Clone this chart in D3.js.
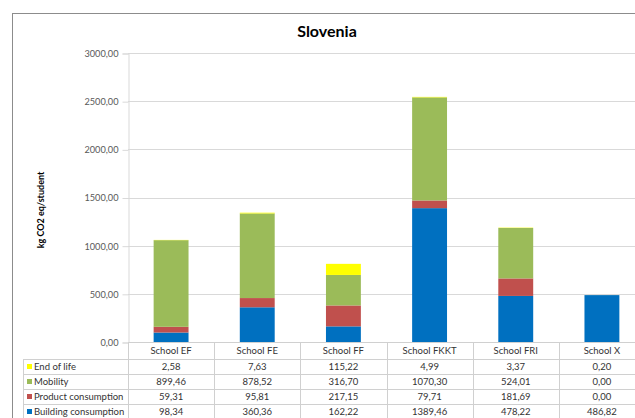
<!DOCTYPE html>
<html>
<head>
<meta charset="utf-8">
<script src="https://cdn.jsdelivr.net/npm/d3@7"></script>
<style>
  body { margin: 0; background: #fff; }
  svg { display: block; font-family: Lato, "Open Sans", sans-serif; }
</style>
</head>
<body>
<div id="chart-area"></div>
<script>
const schools = ["School EF", "School FE", "School FF", "School FKKT", "School FRI", "School X"]
const building = [98.34, 360.36, 162.22, 1389.46, 478.22, 486.82]
const product = [59.31, 95.81, 217.15, 79.71, 181.69, 0.00]
const mobility = [899.46, 878.52, 316.70, 1070.30, 524.01, 0.00]
const endOfLife = [2.58, 7.63, 115.22, 4.99, 3.37, 0.20]
const yTicks = [0, 500, 1000, 1500, 2000, 2500, 3000]

const seriesNames = ["Building consumption", "Product consumption", "Mobility", "End of life"]
const seriesValues = [building, product, mobility, endOfLife]
const seriesColors = ["#0070C0", "#C0504D", "#9BBB59", "#FFFF00"]

const W = 635, H = 418
const PLOT = { LEFT: 128, RIGHT: 645, TOP: 53, BOTTOM: 342 }
const ROW_H = 15
const TABLE_LEFT = 23

const locale = d3.formatLocale({ decimal: ",", thousands: "", grouping: [3], currency: ["", ""] })
const fmt = locale.format(".2f")

const svg = d3.select("#chart-area").append("svg")
  .attr("width", W)
  .attr("height", H)

// chart frame
svg.append("rect")
  .attr("x", 12.5).attr("y", 13.5)
  .attr("width", W + 20).attr("height", H + 20)
  .attr("fill", "#fff")
  .attr("stroke", "#8c8c8c")

// title
svg.append("text")
  .attr("x", 327).attr("y", 37)
  .attr("text-anchor", "middle")
  .attr("font-size", "16px")
  .attr("font-weight", "bold")
  .attr("fill", "#000")
  .text("Slovenia")

const x = d3.scaleBand()
  .domain(schools)
  .range([PLOT.LEFT, PLOT.RIGHT])

const y = d3.scaleLinear()
  .domain([0, 3000])
  .range([PLOT.BOTTOM, PLOT.TOP])

// gridlines
svg.append("g")
  .selectAll("line")
  .data(yTicks.slice(1))
  .join("line")
    .attr("x1", PLOT.LEFT).attr("x2", PLOT.RIGHT)
    .attr("y1", d => Math.round(y(d)) + 0.5)
    .attr("y2", d => Math.round(y(d)) + 0.5)
    .attr("stroke", "#d9d9d9")

// y axis
const yAxis = svg.append("g")
  .attr("transform", `translate(${PLOT.LEFT + 0.5}, 0.5)`)
  .call(d3.axisLeft(y).tickValues(yTicks).tickFormat(fmt).tickSize(6).tickPadding(4))
yAxis.select(".domain").attr("stroke", "#d9d9d9")
yAxis.selectAll(".tick line").attr("stroke", "#d9d9d9")
yAxis.selectAll("text")
  .attr("font-size", "9.2px")
  .attr("font-family", "Lato, sans-serif")
  .attr("fill", "#595959")

// y label
svg.append("text")
  .attr("transform", "translate(44, 210) rotate(-90)")
  .attr("text-anchor", "middle")
  .attr("font-size", "9px")
  .attr("font-weight", "bold")
  .attr("fill", "#000")
  .text("kg CO2 eq/student")

// stacked bars
const table = schools.map((s, i) => {
  const row = { school: s }
  seriesNames.forEach((n, j) => { row[n] = seriesValues[j][i] })
  return row
})
const stacked = d3.stack().keys(seriesNames)(table)
const barW = x.bandwidth() * 0.405

svg.append("g")
  .selectAll("g")
  .data(stacked)
  .join("g")
    .attr("fill", (d, i) => seriesColors[i])
  .selectAll("rect")
  .data(d => d)
  .join("rect")
    .attr("x", d => x(d.data.school) + (x.bandwidth() - barW) / 2)
    .attr("y", d => y(d[1]))
    .attr("width", barW)
    .attr("height", d => y(d[0]) - y(d[1]))

// x axis line
svg.append("line")
  .attr("x1", PLOT.LEFT).attr("x2", PLOT.RIGHT)
  .attr("y1", PLOT.BOTTOM + 0.5).attr("y2", PLOT.BOTTOM + 0.5)
  .attr("stroke", "#d0d0d0")

// data table
const tableTop = PLOT.BOTTOM + 17
const grid = svg.append("g").attr("stroke", "#d0d0d0")
d3.range(seriesNames.length + 1).forEach(r => {
  grid.append("line")
    .attr("x1", TABLE_LEFT).attr("x2", PLOT.RIGHT)
    .attr("y1", tableTop + r * ROW_H + 0.5).attr("y2", tableTop + r * ROW_H + 0.5)
})
grid.append("line")
  .attr("x1", TABLE_LEFT + 0.5).attr("x2", TABLE_LEFT + 0.5)
  .attr("y1", tableTop).attr("y2", H)
schools.forEach(s => {
  grid.append("line")
    .attr("x1", Math.round(x(s)) + 0.5).attr("x2", Math.round(x(s)) + 0.5)
    .attr("y1", PLOT.BOTTOM).attr("y2", H)
})

// header
svg.append("g")
  .selectAll("text")
  .data(schools)
  .join("text")
    .attr("x", d => x(d) + x.bandwidth() / 2)
    .attr("y", PLOT.BOTTOM + 12)
    .attr("text-anchor", "middle")
    .attr("font-size", "9.5px")
    .attr("fill", "#333")
    .text(d => d)

// rows: top row is End of life
const rowOrder = [3, 2, 1, 0]
rowOrder.forEach((si, r) => {
  const cy = tableTop + r * ROW_H
  svg.append("rect")
    .attr("x", 27).attr("y", cy + 5)
    .attr("width", 5).attr("height", 5)
    .attr("fill", seriesColors[si])
  svg.append("text")
    .attr("x", 34).attr("y", cy + 11)
    .attr("font-size", "9.5px")
    .attr("fill", "#333")
    .text(seriesNames[si])
  svg.append("g")
    .selectAll("text")
    .data(seriesValues[si])
    .join("text")
      .attr("x", (d, i) => x(schools[i]) + x.bandwidth() / 2)
      .attr("y", cy + 11)
      .attr("text-anchor", "middle")
      .attr("font-size", "9.5px")
      .attr("fill", "#333")
      .text(d => fmt(d))
})
</script>
</body>
</html>
